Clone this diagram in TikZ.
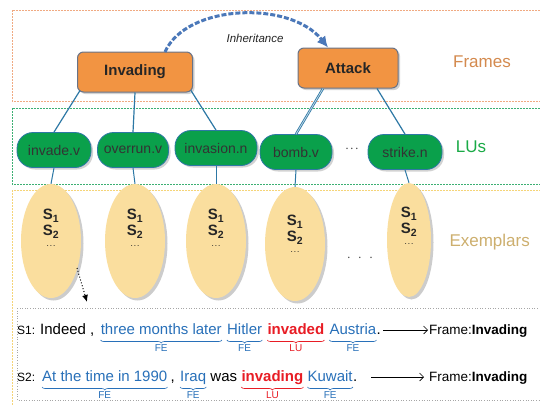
\documentclass[tikz,border=0pt]{standalone}
\usepackage{fontspec}
\setmainfont{Liberation Sans}
\usetikzlibrary{arrows.meta,shadows,decorations.pathreplacing,calc,shapes.geometric}
\definecolor{frameorange}{RGB}{242,148,66}
\definecolor{frameedge}{RGB}{105,115,135}
\definecolor{lugreen}{RGB}{10,160,75}
\definecolor{ellfill}{RGB}{250,222,158}
\definecolor{linkblue}{RGB}{45,120,165}
\definecolor{inhblue}{RGB}{75,120,185}
\definecolor{txtblue}{RGB}{40,112,185}
\definecolor{txtred}{RGB}{232,28,36}
\definecolor{lblframes}{RGB}{212,138,78}
\definecolor{lbllus}{RGB}{25,170,70}
\definecolor{lblex}{RGB}{205,175,110}
\definecolor{boxorange}{RGB}{240,170,130}
\definecolor{boxgreen}{RGB}{60,175,115}
\definecolor{boxyellow}{RGB}{245,212,120}
\begin{document}
\begin{tikzpicture}[x=1pt,y=-1pt,
  framenode/.style={draw=frameedge, line width=1pt, fill=frameorange, rounded corners=6pt,
     minimum height=40pt, font=\fontsize{15}{18}\selectfont\bfseries, text=black!85,
     drop shadow={opacity=0.35, shadow xshift=2pt, shadow yshift=-2pt}},
  lunode/.style={draw=linkblue, line width=0.8pt, fill=lugreen, rounded corners=16pt,
     minimum height=35pt, inner xsep=4pt, font=\fontsize{14}{17}\selectfont, text=black!80,
     drop shadow={opacity=0.35, shadow xshift=2pt, shadow yshift=-2pt}},
  exnode/.style={ellipse, fill=ellfill, draw=none, minimum width=60pt, minimum height=114pt,
     drop shadow={opacity=0.4, shadow xshift=2.5pt, shadow yshift=-2.5pt}},
  extext/.style={align=center, font=\fontsize{15}{17}\selectfont\bfseries, text=black!85, inner sep=0pt},
  link/.style={draw=linkblue, line width=1.2pt},
  grouplabel/.style={font=\fontsize{17}{20}\selectfont},
  sent/.style={font=\fontsize{15}{18}\selectfont, inner sep=0pt, anchor=base west},
  small/.style={font=\fontsize{12}{14}\selectfont, inner sep=0pt, anchor=base west},
  fetag/.style={font=\fontsize{10}{12}\selectfont, inner sep=0pt},
  bracefe/.style={draw=txtblue, line width=0.6pt, decorate, decoration={brace, amplitude=3pt}},
  bracelu/.style={draw=txtred, line width=0.6pt, decorate, decoration={brace, amplitude=3pt}}
]
\useasboundingbox (0,0) rectangle (540,405);
\fill[white] (0,0) rectangle (540,405);

% group boxes
\draw[boxorange, line width=0.6pt, dash pattern=on 2pt off 1pt] (12,10) rectangle (548,101);
\draw[boxgreen, line width=0.6pt, dash pattern=on 2pt off 1pt] (12,108) rectangle (548,184);
\draw[boxyellow, line width=0.6pt, dash pattern=on 2pt off 1pt] (12,190) rectangle (548,412);
\draw[black!35, dotted, line width=0.6pt] (17,308) rectangle (548,400);

% group labels
\node[grouplabel, text=lblframes] (lframes) at (482,62) {Frames};
\node[grouplabel, text=lbllus] (llus) at (471,147) {LUs};
\node[grouplabel, text=lblex, anchor=west] (lex) at (446,242) {Exemplars};

% frames
\node[framenode, minimum width=115pt] (inv) at (135,72) {Invading};
\node[framenode, minimum width=100pt] (att) at (348,68) {Attack};

% inheritance
\coordinate (inhs) at (165,52);
\draw[inhblue, line width=3pt, dash pattern=on 5pt off 2pt, -{Latex[length=11pt,width=11pt]}]
  (inhs) .. controls (186,4) and (290,0) .. ($(att.north)+(-20,0)$);
\node[font=\fontsize{11.5}{14}\selectfont\itshape, text=black!85] (inhlbl) at (255,38) {Inheritance};

% LUs
\node[lunode, minimum width=74pt] (l1) at (54,150) {invade.v};
\node[lunode, minimum width=71pt] (l2) at (133,150) {overrun.v};
\node[lunode, minimum width=82pt] (l3) at (216,148) {invasion.n};
\node[lunode, minimum width=72pt] (l4) at (296,152) {bomb.v};
\node[lunode, minimum width=74pt] (l5) at (405,152) {strike.n};
\node[font=\fontsize{14}{17}\selectfont\bfseries, text=black!70] (ldots) at (352,149) {$\cdot\!\cdot\!\cdot$};

% frame -> LU links
\draw[link] ($(inv.south west)+(3,-2)$) -- (l1.north);
\draw[link] (inv.south) -- (l2.north);
\draw[link] ($(inv.south east)+(-2,-2)$) -- (l3.north);
\draw[link, double=white!70!linkblue, double distance=0.8pt, line width=0.8pt] ($(att.south)+(-25,0)$) -- (l4.north);
\draw[link] ($(att.south)+(29,0)$) -- (l5.north);

% exemplars
\node[exnode] (e1) at (51,241) {};
\node[exnode] (e2) at (135,241) {};
\node[exnode] (e3) at (216,241) {};
\node[exnode] (e4) at (295,244) {};
\node[exnode, minimum width=44pt] (e5) at (409,240) {};
\foreach \e/\dy in {e1/-12,e2/-12,e3/-12,e4/-9,e5/-13}{
  \node[extext] (t\e) at ($(\e.center)+(0,\dy)$) {S\textsubscript{1}\\[-1pt]S\textsubscript{2}\\[-4pt]{\fontsize{10}{12}\selectfont $\cdot\!\cdot\!\cdot$}};
}
\node[font=\fontsize{14}{17}\selectfont, text=black!70] (edots) at (360,258) {$\cdot\;\cdot\;\cdot$};

% LU -> exemplar links
\foreach \i in {1,...,5}{ \draw[link, line width=1pt] (l\i.south) -- (e\i.north); }

% dotted pointer
\coordinate (ptr) at (87,302);
\draw[black, dotted, line width=1pt, -{Latex[length=7pt,width=6pt]}] ($(e1.center)+(26,27)$) -- (ptr);

% sentence 1
\node[small] (s1l) at (17,334) {S1:};
\node[sent] (s1a) at (40,334) {Indeed ,};
\node[sent, text=txtblue] (s1b) at ([xshift=6pt]s1a.base east) {three months later};
\node[sent, text=txtblue] (s1c) at ([xshift=5pt]s1b.base east) {Hitler};
\node[sent, text=txtred, font=\fontsize{15}{18}\selectfont\bfseries] (s1d) at ([xshift=5pt]s1c.base east) {invaded};
\node[sent, text=txtblue] (s1e) at ([xshift=5pt]s1d.base east) {Austria};
\node[sent] (s1f) at (s1e.base east) {.};
\node[sent, font=\fontsize{13.5}{16}\selectfont] (s1g) at (429,334) {Frame:\textbf{Invading}};
\draw[-{Straight Barb[length=4pt]}, line width=0.6pt] ($(s1f.base east)+(2,-4)$) -- ($(s1g.base west)+(-1,-4)$);

\draw[bracefe] ($(s1b.base east)+(0,6)$) -- ($(s1b.base west)+(0,6)$) node[fetag, text=txtblue, midway, below=4pt] (f1) {FE};
\draw[bracefe] ($(s1c.base east)+(0,6)$) -- ($(s1c.base west)+(0,6)$) node[fetag, text=txtblue, midway, below=4pt] (f2) {FE};
\draw[bracelu] ($(s1d.base east)+(0,6)$) -- ($(s1d.base west)+(0,6)$) node[fetag, text=txtred, midway, below=4pt] (f3) {LU};
\draw[bracefe] ($(s1e.base east)+(0,6)$) -- ($(s1e.base west)+(0,6)$) node[fetag, text=txtblue, midway, below=4pt] (f4) {FE};

% sentence 2
\node[small] (s2l) at (17,381) {S2:};
\node[sent, text=txtblue] (s2a) at (42,381) {At the time in 1990};
\node[sent] (s2b) at ([xshift=3pt]s2a.base east) {,};
\node[sent, text=txtblue] (s2c) at ([xshift=5pt]s2b.base east) {Iraq};
\node[sent] (s2d) at ([xshift=4pt]s2c.base east) {was};
\node[sent, text=txtred, font=\fontsize{15}{18}\selectfont\bfseries] (s2e) at ([xshift=4pt]s2d.base east) {invading};
\node[sent, text=txtblue] (s2f) at ([xshift=4pt]s2e.base east) {Kuwait};
\node[sent] (s2g) at (s2f.base east) {.};
\node[sent, font=\fontsize{13.5}{16}\selectfont] (s2h) at (429,381) {Frame:\textbf{Invading}};
\draw[-{Straight Barb[length=4pt]}, line width=0.6pt] ($(s2g.base east)+(14,-4)$) -- ($(s2h.base west)+(-5,-4)$);

\draw[bracefe] ($(s2a.base east)+(0,6)$) -- ($(s2a.base west)+(0,6)$) node[fetag, text=txtblue, midway, below=4pt] (g1) {FE};
\draw[bracefe] ($(s2c.base east)+(0,6)$) -- ($(s2c.base west)+(0,6)$) node[fetag, text=txtblue, midway, below=4pt] (g2) {FE};
\draw[bracelu] ($(s2e.base east)+(0,6)$) -- ($(s2e.base west)+(0,6)$) node[fetag, text=txtred, midway, below=4pt] (g3) {LU};
\draw[bracefe] ($(s2f.base east)+(0,6)$) -- ($(s2f.base west)+(0,6)$) node[fetag, text=txtblue, midway, below=4pt] (g4) {FE};
\end{tikzpicture}
\end{document}
